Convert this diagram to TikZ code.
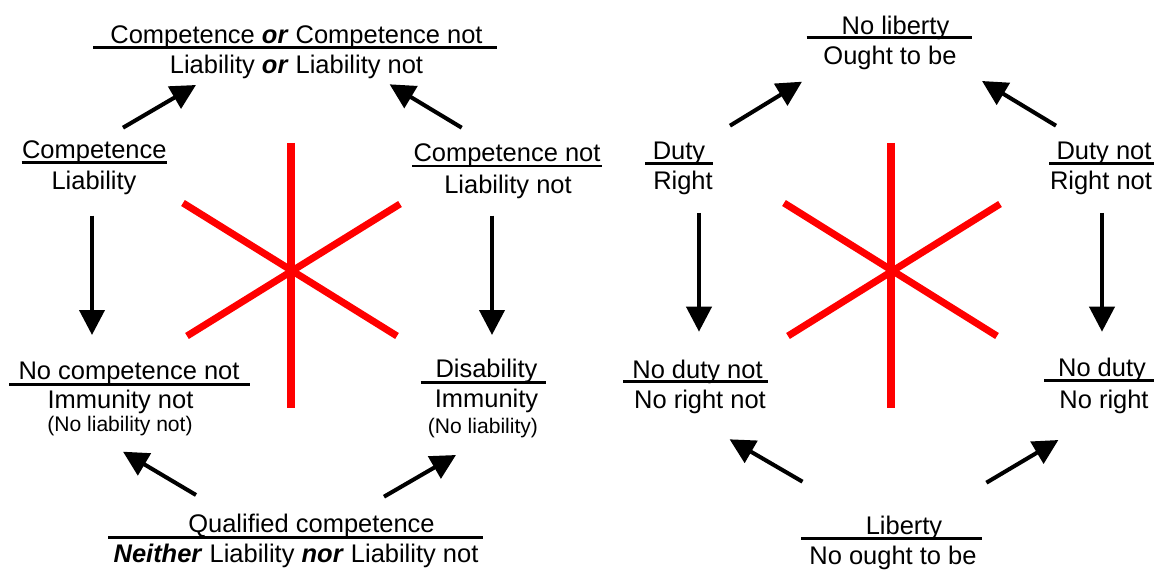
\documentclass[tikz,border=0pt]{standalone}
\usepackage{fontspec}
\setmainfont{Liberation Sans}
\usepackage{tikz}
\usetikzlibrary{arrows.meta}
\newcommand{\bi}[1]{\textbf{\textit{#1}}}

\begin{document}
\begin{tikzpicture}[x=0.02cm,y=-0.02cm,
  lbl/.style={anchor=base,inner sep=0pt,font=\fontsize{14.5}{17}\selectfont},
  sml/.style={anchor=base,inner sep=0pt,font=\fontsize{12}{14}\selectfont},
  uline/.style={line width=1.4pt},
  arr/.style={-{Triangle[length=0.5cm,width=0.5cm]},line width=2.3pt},
  cross/.style={red,line width=4pt}]
\useasboundingbox (0,0) rectangle (1154,570);
% red crosses
\draw[cross] (291,143)--(291,408);
\draw[cross] (183,203)--(397,336);
\draw[cross] (187,336)--(400,204);
\draw[cross] (891,143)--(891,408);
\draw[cross] (784,203)--(997,336);
\draw[cross] (788,336)--(1000,204);
% left square: labels
\draw (296.5,43.5) node[lbl] (cmpor) {Competence \bi{or} Competence not};
\draw (296.5,73.5) node[lbl] (libor) {Liability \bi{or} Liability not};
\draw[uline] (93,47.7)--(497,47.7);
\draw (94.3,158.5) node[lbl] (cmp) {Competence};
\draw (94,190) node[lbl] (lib) {Liability};
\draw[uline] (21.7,162.5)--(166.7,162.5);
\draw (507,162) node[lbl] (cmpnot) {Competence not};
\draw (508,193.5) node[lbl] (libnot) {Liability not};
\draw[uline] (412,166)--(602,166);
\draw (129,380) node[lbl] (nocmpnot) {No competence not};
\draw (120.5,408.5) node[lbl] (immnot) {Immunity not};
\draw (120,432) node[sml] (nolibnot) {(No liability not)};
\draw[uline] (9.3,384.3)--(250,384.3);
\draw (486.5,377.5) node[lbl] (dis) {Disability};
\draw (486.5,408) node[lbl] (imm) {Immunity};
\draw (483,434) node[sml] (nolib) {(No liability)};
\draw[uline] (420.7,382.3)--(546,382.3);
\draw (311.5,533) node[lbl] (qual) {Qualified competence};
\draw (296,563) node[lbl] (neither) {\bi{Neither} Liability \bi{nor} Liability not};
\draw[uline] (108,537.3)--(483,537.3);
% left square: arrows
\coordinate (a1s) at (123,127.7);  \coordinate (a1e) at (196,85);
\coordinate (a2s) at (461.7,127.7);\coordinate (a2e) at (389.6,84.3);
\coordinate (a3s) at (92,215.7);   \coordinate (a3e) at (92,335);
\coordinate (a4s) at (492,215.7);  \coordinate (a4e) at (492,335);
\coordinate (a5s) at (196,495);    \coordinate (a5e) at (123,451.7);
\coordinate (a6s) at (384,496.7);  \coordinate (a6e) at (456,455);
\draw[arr] (a1s)--(a1e);
\draw[arr] (a2s)--(a2e);
\draw[arr] (a3s)--(a3e);
\draw[arr] (a4s)--(a4e);
\draw[arr] (a5s)--(a5e);
\draw[arr] (a6s)--(a6e);
% right square: labels
\draw (895.5,34.3) node[lbl] (noliberty) {No liberty};
\draw (890,64.3) node[lbl] (ought) {Ought to be};
\draw[uline] (806.7,37.7)--(972,37.7);
\draw (679,159.5) node[lbl] (duty) {Duty};
\draw (683,190) node[lbl] (right) {Right};
\draw[uline] (645,163.3)--(713,163.3);
\draw (1104,159.5) node[lbl] (dutynot) {Duty not};
\draw (1101,190) node[lbl] (rightnot) {Right not};
\draw[uline] (1049,163.3)--(1154,163.3);
\draw (697.5,378.3) node[lbl] (nodutynot) {No duty not};
\draw (700,409) node[lbl] (norightnot) {No right not};
\draw[uline] (623,381.7)--(768,381.7);
\draw (1102,377) node[lbl] (noduty) {No duty};
\draw (1104,408.3) node[lbl] (noright) {No right};
\draw[uline] (1044,380.7)--(1154,380.7);
\draw (904,535) node[lbl] (liberty) {Liberty};
\draw (893,565) node[lbl] (noought) {No ought to be};
\draw[uline] (801,538.7)--(982,538.7);
% right square: arrows
\coordinate (b1s) at (730,125.7);  \coordinate (b1e) at (802,81.7);
\coordinate (b2s) at (1056,125.7); \coordinate (b2e) at (982,81);
\coordinate (b3s) at (699,213);    \coordinate (b3e) at (699,331.7);
\coordinate (b4s) at (1102,213);   \coordinate (b4e) at (1102,331.7);
\coordinate (b5s) at (802.5,481.7);\coordinate (b5e) at (729.6,439.3);
\coordinate (b6s) at (986.4,482.7);\coordinate (b6e) at (1058.4,440);
\draw[arr] (b1s)--(b1e);
\draw[arr] (b2s)--(b2e);
\draw[arr] (b3s)--(b3e);
\draw[arr] (b4s)--(b4e);
\draw[arr] (b5s)--(b5e);
\draw[arr] (b6s)--(b6e);
\end{tikzpicture}
\end{document}
